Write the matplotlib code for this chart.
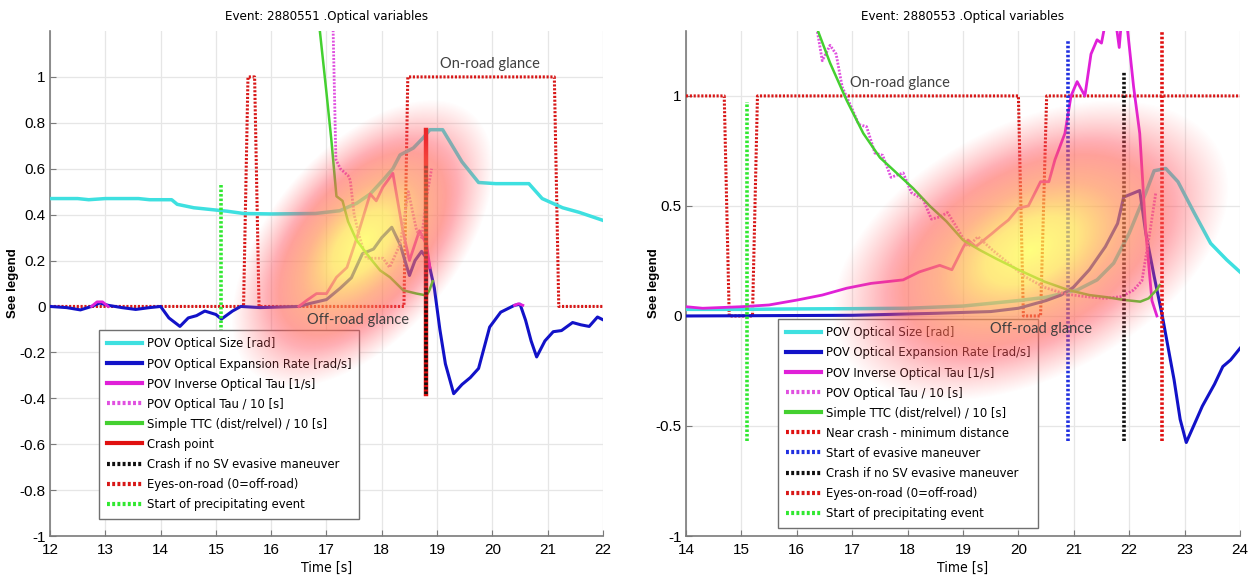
import matplotlib
matplotlib.use('Agg')
import matplotlib.pyplot as plt
from matplotlib import font_manager
from matplotlib.font_manager import FontProperties
from matplotlib.ticker import FuncFormatter
import numpy as np

nan = np.nan

# ---- event 2880551 (left) ----
t1_size = [12.0, 12.5, 12.7, 13.0, 13.6, 13.8, 14.2, 14.3, 14.6, 14.8, 15.2, 15.5, 16.0, 16.8, 17.24,
           17.55, 17.79, 18.02, 18.2, 18.33, 18.57, 18.75, 18.87, 19.1, 19.2, 19.45, 19.75, 20.06, 20.66,
           20.9, 21.27, 21.57, 22.0]
size1 = [0.47, 0.47, 0.465, 0.47, 0.47, 0.465, 0.465, 0.445, 0.43, 0.425, 0.415, 0.405, 0.403, 0.405, 0.417,
         0.45, 0.49, 0.55, 0.6, 0.66, 0.69, 0.735, 0.77, 0.77, 0.73, 0.63, 0.54, 0.535, 0.535,
         0.47, 0.43, 0.41, 0.375]

t1_rate = [12.0, 12.3, 12.55, 12.75, 12.9, 13.05, 13.3, 13.55, 13.8, 14.0, 14.15, 14.35, 14.5, 14.65, 14.8,
           15.0, 15.1, 15.3, 15.45, 15.8, 16.5, 16.7, 17.0, 17.25, 17.45, 17.65, 17.85, 18.0, 18.18, 18.33,
           18.5, 18.6, 18.72, 18.84, 18.95, 19.05, 19.15, 19.3, 19.45, 19.6, 19.75, 19.95, 20.15, 20.4,
           20.5, 20.6, 20.7, 20.8, 20.95, 21.1, 21.25, 21.45, 21.6, 21.75, 21.9, 22.0]
rate1 = [0.0, -0.005, -0.015, 0.0, 0.015, 0.005, -0.005, -0.013, -0.005, 0.0, -0.05, -0.087, -0.05, -0.04, -0.02,
         -0.035, -0.055, -0.02, 0.0, -0.005, 0.0, 0.013, 0.03, 0.08, 0.125, 0.23, 0.25, 0.30, 0.345, 0.27,
         0.135, 0.2, 0.24, 0.2, 0.08, -0.1, -0.25, -0.38, -0.34, -0.31, -0.27, -0.09, -0.025, 0.005,
         0.01, -0.06, -0.15, -0.22, -0.15, -0.11, -0.105, -0.07, -0.08, -0.087, -0.046, -0.058]

t1_inv = [12.75, 12.85, 12.95, 13.05, nan, 16.5, 16.64, 16.82, 17.0, 17.18, 17.37, 17.55, 17.79, 17.9,
          18.02, 18.2, 18.38, 18.5, 18.68, 18.81, 18.87, nan, 20.4, 20.47, 20.55]
inv1 = [0.0, 0.02, 0.02, 0.0, nan, 0.0, 0.026, 0.056, 0.056, 0.127, 0.17, 0.30, 0.49, 0.46,
        0.52, 0.58, 0.33, 0.20, 0.33, 0.27, 0.17, nan, 0.005, 0.012, 0.005]

t1_tau = [17.08, 17.12, 17.17, 17.25, 17.39, 17.43, 17.5, 17.6, 17.72, 17.84, 18.02, 18.14, 18.33, 18.48,
          18.63, 18.72, 18.81, 18.9]
tau1 = [1.6, 1.2, 0.64, 0.6, 0.57, 0.55, 0.4, 0.3, 0.21, 0.21, 0.21, 0.17, 0.27, 0.50,
        0.33, 0.30, 0.475, 0.6]

t1_ttc = [16.8, 16.88, 17.0, 17.09, 17.18, 17.29, 17.39, 17.54, 17.79, 17.97, 18.15, 18.39, 18.63, 18.81,
          18.86, 18.92]
ttc1 = [1.6, 1.2, 0.93, 0.72, 0.48, 0.46, 0.37, 0.29, 0.21, 0.157, 0.127, 0.07, 0.056, 0.048,
        0.07, 0.11]

t1_eyes = [12.0, 15.5, 15.58, 15.7, 15.78, 18.4, 18.47, 21.12, 21.2, 22.0]
eyes1 = [0, 0, 1, 1, 0, 0, 1, 1, 0, 0]

crash1_t, crash1_span = 18.8, (-0.38, 0.77)
nosv1_t, nosv1_span = 18.8, (-0.38, 0.62)
precip1_t, precip1_span = 15.1, (-0.11, 0.54)

# ---- event 2880553 (right) ----
t2_size = [14.0, 15.0, 16.0, 17.0, 18.0, 19.0, 20.0, 20.5, 21.06, 21.42, 21.72, 22.0, 22.3, 22.45, 22.66,
           22.88, 23.17, 23.47, 23.76, 24.0]
size2 = [0.03, 0.03, 0.032, 0.033, 0.035, 0.045, 0.07, 0.085, 0.118, 0.164, 0.24, 0.376, 0.56, 0.66, 0.67,
         0.61, 0.47, 0.33, 0.255, 0.2]

t2_rate = [14.0, 17.0, 18.5, 19.5, 20.0, 20.5, 20.77, 20.99, 21.28, 21.57, 21.79, 21.9, 22.19, 22.3, 22.45,
           22.59, 22.7, 22.81, 22.92, 23.03, 23.18, 23.32, 23.54, 23.69, 23.83, 24.0]
rate2 = [0.0, 0.003, 0.012, 0.02, 0.035, 0.07, 0.095, 0.13, 0.21, 0.315, 0.42, 0.54, 0.57, 0.376, 0.18,
         0.01, -0.14, -0.29, -0.47, -0.575, -0.49, -0.41, -0.31, -0.23, -0.2, -0.147]

t2_inv = [14.0, 14.3, 15.0, 15.5, 16.02, 16.46, 16.9, 17.34, 17.92, 18.21, 18.58, 18.8, 19.01, 19.09, 19.23,
          19.53, 19.67, 19.82, 20.0, 20.18, 20.4, 20.55, 20.66, 20.84, 20.95, 21.06, 21.2, 21.31, 21.42,
          21.5, 21.62, 21.75, 21.82, 21.88, 21.97, 22.08, 22.19, 22.3, 22.41, 22.5]
inv2 = [0.042, 0.035, 0.042, 0.05, 0.073, 0.095, 0.126, 0.148, 0.164, 0.2, 0.23, 0.21, 0.315, 0.345, 0.315,
        0.376, 0.406, 0.436, 0.49, 0.5, 0.61, 0.61, 0.71, 0.83, 1.0, 1.065, 1.0, 1.19, 1.255,
        1.24, 1.4, 1.35, 1.22, 1.4, 1.3, 1.04, 0.83, 0.38, 0.07, 0.0]

t2_tau = [16.3, 16.46, 16.6, 16.71, 16.82, 17.0, 17.12, 17.26, 17.41, 17.55, 17.7, 17.92, 18.07, 18.28, 18.43,
          18.58, 18.72, 18.87, 19.09, 19.27, 19.53, 19.82, 20.11, 20.47, 20.84, 21.2, 21.57, 21.86, 22.08,
          22.23, 22.37, 22.48]
tau2 = [1.4, 1.16, 1.23, 1.19, 1.04, 0.94, 0.87, 0.86, 0.74, 0.73, 0.63, 0.65, 0.56, 0.53, 0.44,
        0.45, 0.47, 0.41, 0.315, 0.36, 0.3, 0.24, 0.18, 0.13, 0.1, 0.088, 0.08, 0.088, 0.118,
        0.16, 0.376, 0.56]

t2_ttc = [16.3, 16.6, 16.9, 17.2, 17.5, 17.8, 18.1, 18.4, 18.7, 19.0, 19.3, 19.6, 20.0, 20.47, 20.9, 21.28,
          21.6, 21.9, 22.2, 22.35, 22.5, 22.55]
ttc2 = [1.35, 1.15, 0.98, 0.83, 0.72, 0.65, 0.58, 0.5, 0.43, 0.345, 0.3, 0.26, 0.21, 0.156, 0.118, 0.095,
        0.085, 0.073, 0.065, 0.08, 0.12, 0.14]

t2_eyes = [14.0, 14.69, 14.78, 15.2, 15.29, 20.0, 20.09, 20.4, 20.51, 24.0]
eyes2 = [1, 1, 0, 0, 1, 1, 0, 0, 1, 1]

nearcrash2_t, nearcrash2_span = 22.6, (-0.57, 1.4)
evasive2_t, evasive2_span = 20.9, (-0.57, 1.255)
nosv2_t, nosv2_span = 21.9, (-0.57, 1.11)
precip2_t, precip2_span = 15.1, (-0.57, 0.974)

# ---- styling ----
plt.rcParams['axes.unicode_minus'] = False
plt.rcParams['font.family'] = ['Liberation Sans', 'DejaVu Sans']


def narrow_font(size):
    # look for a condensed sans face; fall back to a smaller regular one
    for fam, stretch in [('Liberation Sans Narrow', 'normal'), ('DejaVu Sans', 'condensed')]:
        try:
            path = font_manager.findfont(FontProperties(family=fam, stretch=stretch),
                                         fallback_to_default=False)
        except ValueError:
            continue
        if 'Narrow' in path or 'Condensed' in path:
            return FontProperties(fname=path, size=size)
    return FontProperties(family='Liberation Sans', size=size * 0.95)


C_CYAN = '#3ee0e0'
C_BLUE = '#1212c8'
C_MAG = '#e020d8'
C_MAG_DOT = '#e050e0'
C_GREEN = '#44d030'
C_RED = '#e01010'
C_RED_DOT = '#d81818'
C_BLACK = '#101010'
C_GREEN_DOT = '#30e830'
C_BLUE_DOT = '#2030e0'
DOT = (0, (0.7, 0.55))

FIG_W, FIG_H = 1254, 578


def heat_blob(ax, cx, cy, a, b, ang, w, h):
    # soft elliptical red/yellow highlight, drawn in axes pixel space
    yy, xx = np.mgrid[0:h, 0:w]
    dx = xx - cx
    dy = yy - cy
    t = np.deg2rad(ang)
    u = dx * np.cos(t) + dy * np.sin(t)
    v = -dx * np.sin(t) + dy * np.cos(t)
    r = np.sqrt((u / a) ** 2 + (v / b) ** 2)
    stops = [0.0, 0.25, 0.5, 0.8, 1.1]
    red = np.ones_like(r)
    green = np.interp(r, stops, [1.0, 0.88, 0.55, 0.3, 0.4])
    blue = np.interp(r, stops, [0.3, 0.3, 0.32, 0.35, 0.4])
    alpha = np.interp(r, [0.0, 0.35, 0.7, 0.9, 1.1], [0.72, 0.7, 0.6, 0.3, 0.0])
    img = np.dstack([red, green, blue, alpha])
    ax.imshow(img, extent=[0, 1, 0, 1], transform=ax.transAxes, origin='lower',
              aspect='auto', interpolation='bilinear', zorder=6)


def style_axes(ax, title, xlim, ylim, yticks, label_x):
    ax.set_xlim(*xlim)
    ax.set_ylim(*ylim)
    ax.set_xticks(np.arange(xlim[0], xlim[1] + 1))
    ax.set_yticks(yticks)
    ax.xaxis.set_major_formatter(FuncFormatter(lambda v, p: '%g' % v))
    ax.yaxis.set_major_formatter(FuncFormatter(lambda v, p: '%g' % (round(v, 2) + 0.0)))
    ax.grid(True, color='#e6e6e6', linewidth=0.9)
    ax.set_axisbelow(True)
    for s in ['top', 'right']:
        ax.spines[s].set_visible(False)
    for s in ['left', 'bottom']:
        ax.spines[s].set_color('#7a7a7a')
        ax.spines[s].set_linewidth(1.2)
    ax.tick_params(direction='in', length=4, color='#7a7a7a', labelsize=11)
    ax.tick_params(axis='x', pad=5)
    ax.tick_params(axis='y', pad=3)
    ax.set_title(title, fontproperties=narrow_font(9.5), pad=8)
    ax.set_xlabel('Time [s]', fontproperties=narrow_font(10), labelpad=3)
    ax.set_ylabel('See legend', fontsize=9.5, fontweight='bold')
    ax.yaxis.set_label_coords(label_x, 0.5)


def glance_text(ax, x, y, s):
    ax.text(x, y, s, fontsize=10.5, color='#404040', ha='center', va='center',
            family=['Lato', 'Open Sans', 'DejaVu Sans'], zorder=10)


def add_legend(ax, x0, y0, w):
    leg = ax.legend(loc='lower left', bbox_to_anchor=(x0 / w, y0 / 505), borderaxespad=0,
                    prop=narrow_font(9.3), handlelength=2.7, handletextpad=0.4,
                    labelspacing=0.55, borderpad=0.6, fancybox=False, framealpha=1,
                    edgecolor='#707070')
    leg.get_frame().set_linewidth(1.0)
    for ln in leg.get_lines():
        ln.set_linewidth(3.0)
    leg.set_zorder(5)
    return leg


fig = plt.figure(figsize=(FIG_W / 100, FIG_H / 100), dpi=100)

# ---- left panel ----
ax1 = fig.add_axes([50 / FIG_W, 42 / FIG_H, 553 / FIG_W, 505 / FIG_H])
ax1.plot(t1_eyes, eyes1, color=C_RED_DOT, lw=2.2, ls=DOT, zorder=3)
ax1.plot(t1_size, size1, color=C_CYAN, lw=2.5, label='POV Optical Size [rad]', zorder=4)
ax1.plot(t1_rate, rate1, color=C_BLUE, lw=2.2, label='POV Optical Expansion Rate [rad/s]', zorder=4)
ax1.plot(t1_inv, inv1, color=C_MAG, lw=2.0, label='POV Inverse Optical Tau [1/s]', zorder=4)
ax1.plot(t1_tau, tau1, color=C_MAG_DOT, lw=2.0, ls=DOT, label='POV Optical Tau / 10 [s]', zorder=4)
ax1.plot(t1_ttc, ttc1, color=C_GREEN, lw=1.8, label='Simple TTC (dist/relvel) / 10 [s]', zorder=4)
ax1.plot([crash1_t, crash1_t], crash1_span, color=C_RED, lw=3.2, label='Crash point', zorder=4)
ax1.plot([nosv1_t, nosv1_t], nosv1_span, color=C_BLACK, lw=2.6, ls=DOT,
         label='Crash if no SV evasive maneuver', zorder=4)
ax1.plot([], [], color=C_RED_DOT, lw=2.2, ls=DOT, label='Eyes-on-road (0=off-road)')
ax1.plot([precip1_t, precip1_t], precip1_span, color=C_GREEN_DOT, lw=2.6, ls=DOT,
         label='Start of precipitating event', zorder=4)
style_axes(ax1, 'Event: 2880551 .Optical variables', (12, 22), (-1, 1.2),
           np.round(np.arange(-1, 1.01, 0.2), 1), -0.056)
glance_text(ax1, 19.96, 1.055, 'On-road glance')
glance_text(ax1, 17.57, -0.057, 'Off-road glance')
add_legend(ax1, 49, 17, 553)
heat_blob(ax1, 312, 292, 155, 85, 50, 553, 505)

# ---- right panel ----
ax2 = fig.add_axes([686 / FIG_W, 42 / FIG_H, 554 / FIG_W, 505 / FIG_H])
ax2.plot(t2_eyes, eyes2, color=C_RED_DOT, lw=2.2, ls=DOT, zorder=3)
ax2.plot(t2_size, size2, color=C_CYAN, lw=2.5, label='POV Optical Size [rad]', zorder=4)
ax2.plot(t2_rate, rate2, color=C_BLUE, lw=2.2, label='POV Optical Expansion Rate [rad/s]', zorder=4)
ax2.plot(t2_inv, inv2, color=C_MAG, lw=2.0, label='POV Inverse Optical Tau [1/s]', zorder=4)
ax2.plot(t2_tau, tau2, color=C_MAG_DOT, lw=2.0, ls=DOT, label='POV Optical Tau / 10 [s]', zorder=4)
ax2.plot(t2_ttc, ttc2, color=C_GREEN, lw=1.8, label='Simple TTC (dist/relvel) / 10 [s]', zorder=4)
ax2.plot([nearcrash2_t, nearcrash2_t], nearcrash2_span, color=C_RED, lw=2.6, ls=DOT,
         label='Near crash - minimum distance', zorder=4)
ax2.plot([evasive2_t, evasive2_t], evasive2_span, color=C_BLUE_DOT, lw=2.6, ls=DOT,
         label='Start of evasive maneuver', zorder=4)
ax2.plot([nosv2_t, nosv2_t], nosv2_span, color=C_BLACK, lw=2.6, ls=DOT,
         label='Crash if no SV evasive maneuver', zorder=4)
ax2.plot([], [], color=C_RED_DOT, lw=2.2, ls=DOT, label='Eyes-on-road (0=off-road)')
ax2.plot([precip2_t, precip2_t], precip2_span, color=C_GREEN_DOT, lw=2.6, ls=DOT,
         label='Start of precipitating event', zorder=4)
style_axes(ax2, 'Event: 2880553 .Optical variables', (14, 24), (-1, 1.295),
           [-1, -0.5, 0, 0.5, 1], -0.047)
glance_text(ax2, 17.87, 1.06, 'On-road glance')
glance_text(ax2, 20.4, -0.06, 'Off-road glance')
add_legend(ax2, 92, 8, 554)
heat_blob(ax2, 344, 285, 195, 115, 28, 554, 505)

fig.savefig('out.png', dpi=100)
